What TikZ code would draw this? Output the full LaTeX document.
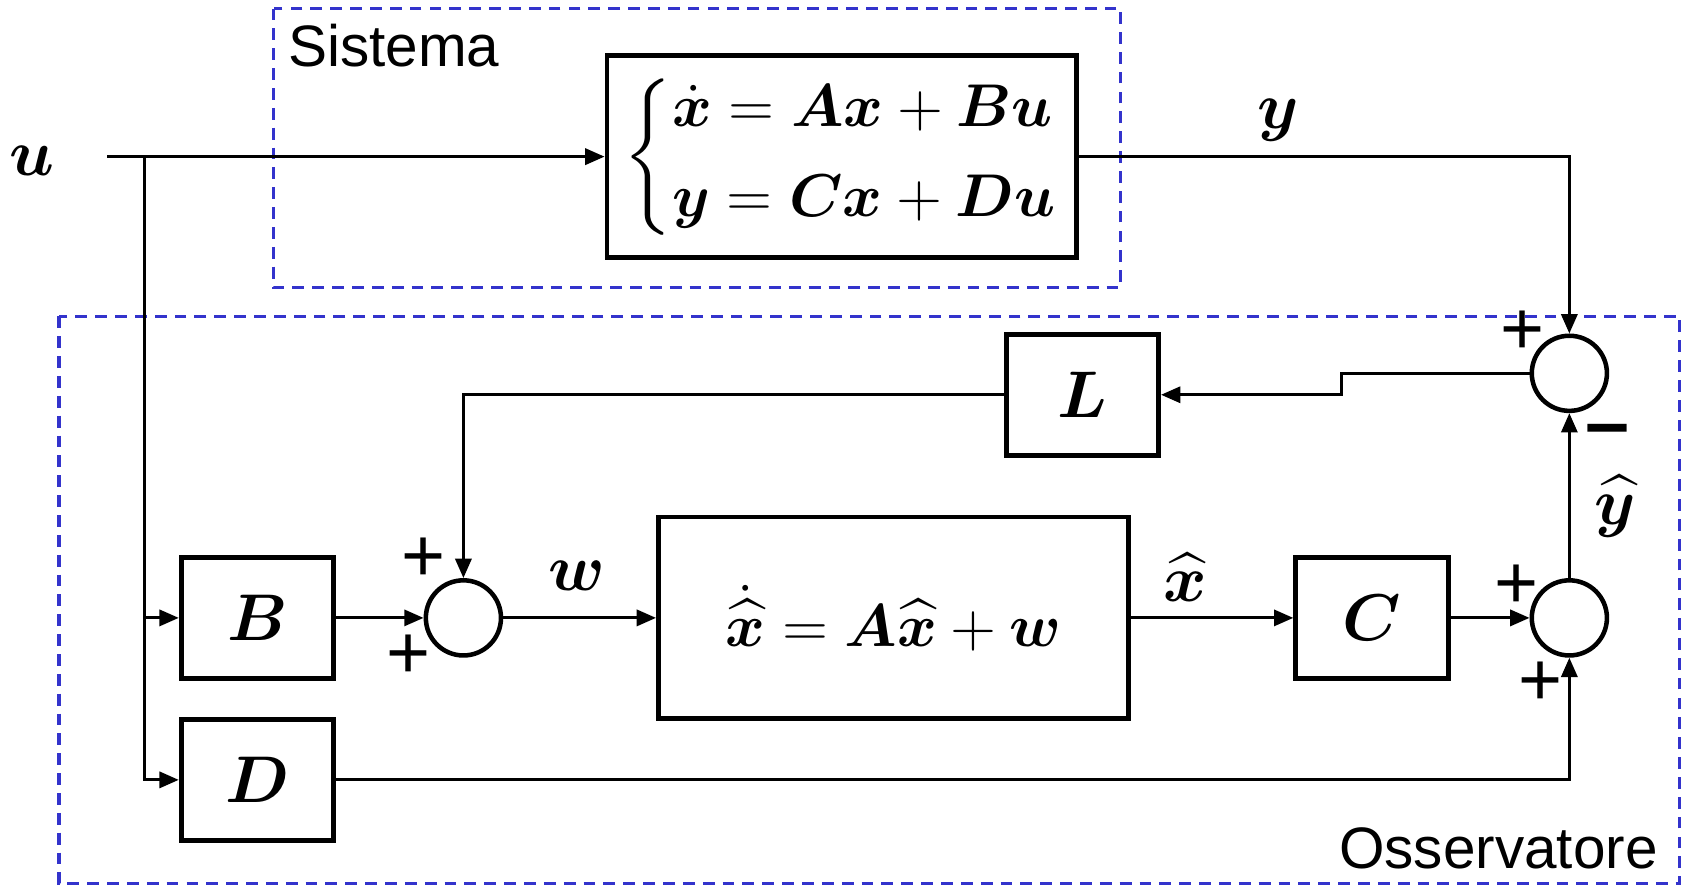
\RequirePackage{fix-cm}
\documentclass[tikz,border=0pt]{standalone}
\usepackage{amsmath,bm}
\usepackage{fontspec}
\newfontfamily\arial{Liberation Sans}
\usetikzlibrary{arrows.meta}
\definecolor{dashblue}{RGB}{51,51,204}
\begin{document}
\begin{tikzpicture}[x=0.01cm,y=-0.01cm,
  blk/.style={draw,line width=1.3pt,minimum width=1.42cm,minimum height=1.13cm,inner sep=0pt,font=\fontsize{17.5}{20}\selectfont},
  sumc/.style={draw,circle,line width=1.2pt,minimum size=0.70cm,inner sep=0pt},
  conn/.style={line width=0.8pt,-{Triangle[length=0.18cm,width=0.15cm]}},
  frame/.style={draw=dashblue,line width=0.8pt,dash pattern=on 0.11cm off 0.075cm},
  lbl/.style={font=\fontsize{17.5}{20}\selectfont,inner sep=0pt},
  sgn/.style={font=\arial\fontsize{20}{20}\selectfont,inner sep=0pt},
  txt/.style={font=\arial\fontsize{15.5}{18}\selectfont,inner sep=0pt}]
\useasboundingbox (0,0) rectangle (1568,826);
\draw[frame] (255,8) rectangle (1045,268);
\draw[frame] (55,295) rectangle (1566,824);
\node[txt,anchor=base west] (sis) at (268,62) {Sistema};
\node[txt,anchor=base east] (oss) at (1546,810) {Osservatore};

\node[blk,minimum width=4.37cm,minimum height=1.88cm,font=\fontsize{16}{20}\selectfont] (sys) at (784.5,146)
  {$\left\{\begin{array}{@{}l@{}}\dot{\bm{x}}=\bm{A}\bm{x}+\bm{B}\bm{u}\\[4pt] \bm{y}=\bm{C}\bm{x}+\bm{D}\bm{u}\end{array}\right.$};
\node[blk,minimum width=4.38cm,minimum height=1.88cm,font=\fontsize{16}{20}\selectfont] (est) at (833,576)
  {$\dot{\widehat{\bm{x}}}=\bm{A}\widehat{\bm{x}}+\bm{w}$};
\node[blk] (B) at (240,576) {$\bm{B}$};
\node[blk] (D) at (240,727) {$\bm{D}$};
\node[blk] (C) at (1279,576) {$\bm{C}$};
\node[blk] (L) at (1009,368) {$\bm{L}$};
\node[sumc] (s1) at (432,576) {};
\node[sumc] (s2) at (1463,576) {};
\node[sumc] (s3) at (1463,348) {};

\node[lbl] (u) at (30,150) {$\bm{u}$};
\coordinate (uin) at (100,146);
\coordinate (j) at (135,146);
\draw[conn] (uin) -- (sys.west);
\draw[conn] (j) |- (B.west);
\draw[conn] (j) |- (D.west);

\draw[conn] (sys.east) -| (s3.north);
\node[lbl] (ylab) at (1192,112) {$\bm{y}$};
\draw[conn] (s3.west) -- ++(-175,0) |- (L.east);
\draw[conn] (L.west) -| (s1.north);
\draw[conn] (B.east) -- (s1.west);
\draw[conn] (s1.east) -- (est.west);
\node[lbl] (wlab) at (538,537) {$\bm{w}$};
\draw[conn] (est.east) -- (C.west);
\node[lbl] (xhlab) at (1105,538) {$\widehat{\bm{x}}$};
\draw[conn] (C.east) -- (s2.west);
\draw[conn] (D.east) -| (s2.south);
\draw[conn] (s2.north) -- (s3.south);
\node[lbl] (yhlab) at (1506,472) {$\widehat{\bm{y}}$};

\node[sgn] (p1) at (395,522) {+};
\node[sgn] (p2) at (381,612) {+};
\node[sgn] (p3) at (1414,547) {+};
\node[sgn] (p4) at (1436,637) {+};
\node[sgn] (p5) at (1419,310) {+};
\node[sgn,font=\arial\bfseries\fontsize{21}{21}\selectfont] (m1) at (1499,407) {–};
\end{tikzpicture}
\end{document}
